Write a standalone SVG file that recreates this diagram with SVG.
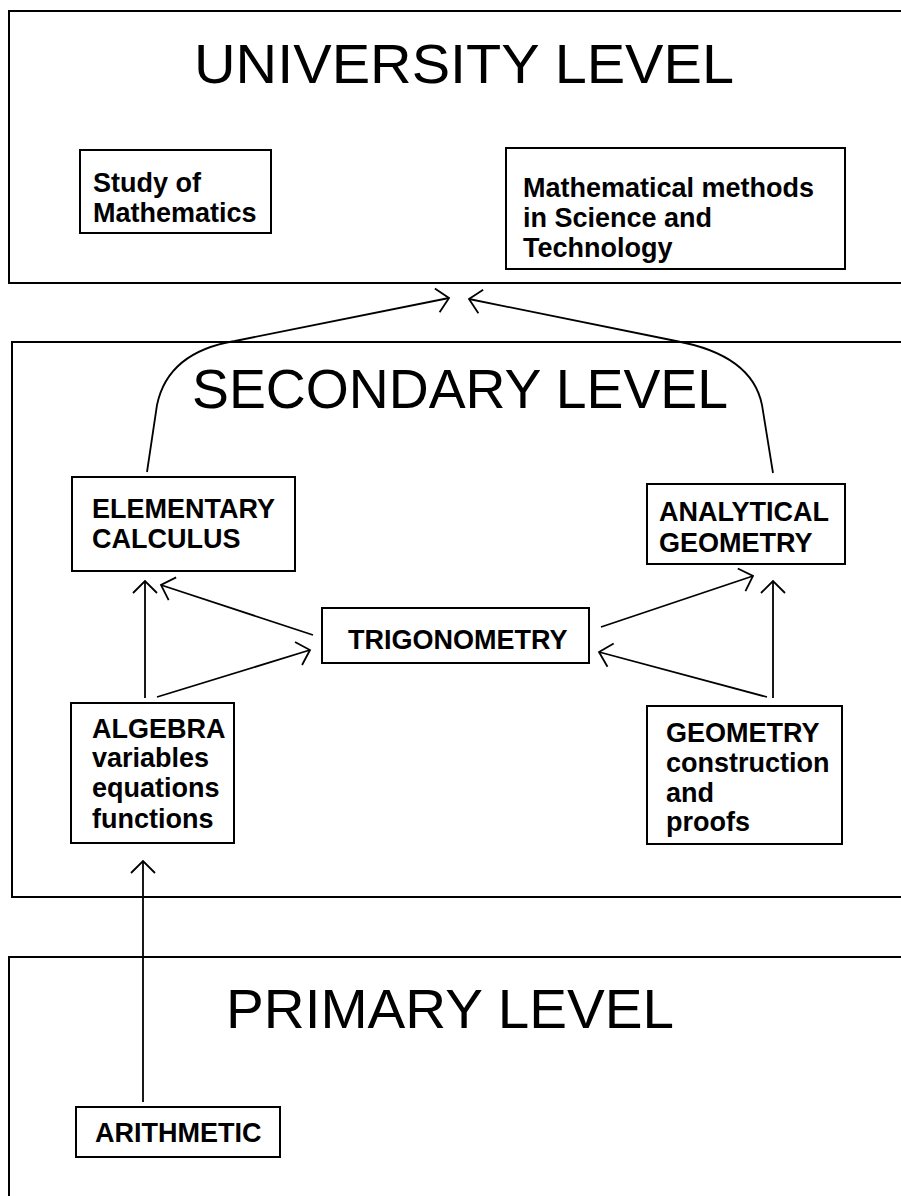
<svg xmlns="http://www.w3.org/2000/svg" width="901" height="1196" viewBox="0 0 901 1196">
<style>
.frame{fill:none;stroke:#000;stroke-width:2}
.box{fill:#fff;stroke:#000;stroke-width:2}
.title{font-family:"Liberation Sans",Arial,sans-serif;font-size:56px;fill:#000}
.lbl{font-family:"Liberation Sans",Arial,sans-serif;font-size:27px;font-weight:bold;fill:#000}
.edge{fill:none;stroke:#000;stroke-width:1.8;marker-end:url(#arr)}
</style>
<defs>
<marker id="arr" markerUnits="userSpaceOnUse" markerWidth="30" markerHeight="30" viewBox="-15 -15 30 30" refX="0" refY="0" orient="auto" overflow="visible">
<path d="M-12,-12 L0,0 L-12,12" fill="none" stroke="#000" stroke-width="1.8"/>
</marker>
</defs>
<rect width="901" height="1196" fill="#fff"/>
<g id="university">
<path class="frame" d="M903,11 H9 V283 H903"/>
<text class="title" x="194" y="83" textLength="540" lengthAdjust="spacingAndGlyphs">UNIVERSITY LEVEL</text>
</g>
<g id="secondary">
<path class="frame" d="M903,342 H12 V897 H903"/>
<text class="title" x="192" y="408" textLength="536" lengthAdjust="spacingAndGlyphs">SECONDARY LEVEL</text>
</g>
<g id="primary">
<path class="frame" d="M903,957 H9 V1196"/>
<text class="title" x="226" y="1028" textLength="448" lengthAdjust="spacingAndGlyphs">PRIMARY LEVEL</text>
</g>
<g id="connectors">
<path class="edge" d="M147,472 L157,405 Q168,352 235,341 L449,298"/>
<path class="edge" d="M773,473 L762,405 Q752,355 676,341 L469,299"/>
<path class="edge" d="M145,698 V581"/>
<path class="edge" d="M313,635 L161,585"/>
<path class="edge" d="M157,697 L310,650"/>
<path class="edge" d="M601,627 L753,576"/>
<path class="edge" d="M773,698 V581"/>
<path class="edge" d="M767,697 L599,652"/>
<path class="edge" d="M143,1102 V861"/>
</g>
<g id="study">
<rect class="box" x="80" y="150" width="191" height="83"/>
<text class="lbl" x="93" y="192">Study of</text>
<text class="lbl" x="93" y="222">Mathematics</text>
</g>
<g id="methods">
<rect class="box" x="506" y="148" width="339" height="121"/>
<text class="lbl" x="523" y="197">Mathematical methods</text>
<text class="lbl" x="523" y="227">in Science and</text>
<text class="lbl" x="523" y="257">Technology</text>
</g>
<g id="calculus">
<rect class="box" x="72" y="477" width="223" height="94"/>
<text class="lbl" x="92" y="518">ELEMENTARY</text>
<text class="lbl" x="92" y="548">CALCULUS</text>
</g>
<g id="analytical">
<rect class="box" x="647" y="484" width="198" height="80"/>
<text class="lbl" x="659" y="521">ANALYTICAL</text>
<text class="lbl" x="659" y="552">GEOMETRY</text>
</g>
<g id="trigonometry">
<rect class="box" x="322" y="608" width="267" height="55"/>
<text class="lbl" x="348" y="649">TRIGONOMETRY</text>
</g>
<g id="algebra">
<rect class="box" x="71" y="703" width="163" height="140"/>
<text class="lbl" x="92" y="738">ALGEBRA</text>
<text class="lbl" x="92" y="767">variables</text>
<text class="lbl" x="92" y="797">equations</text>
<text class="lbl" x="92" y="828">functions</text>
</g>
<g id="geometry">
<rect class="box" x="647" y="706" width="195" height="138"/>
<text class="lbl" x="666" y="742">GEOMETRY</text>
<text class="lbl" x="666" y="772">construction</text>
<text class="lbl" x="666" y="802">and</text>
<text class="lbl" x="666" y="831">proofs</text>
</g>
<g id="arithmetic">
<rect class="box" x="76" y="1107" width="204" height="50"/>
<text class="lbl" x="95" y="1142">ARITHMETIC</text>
</g>
</svg>
